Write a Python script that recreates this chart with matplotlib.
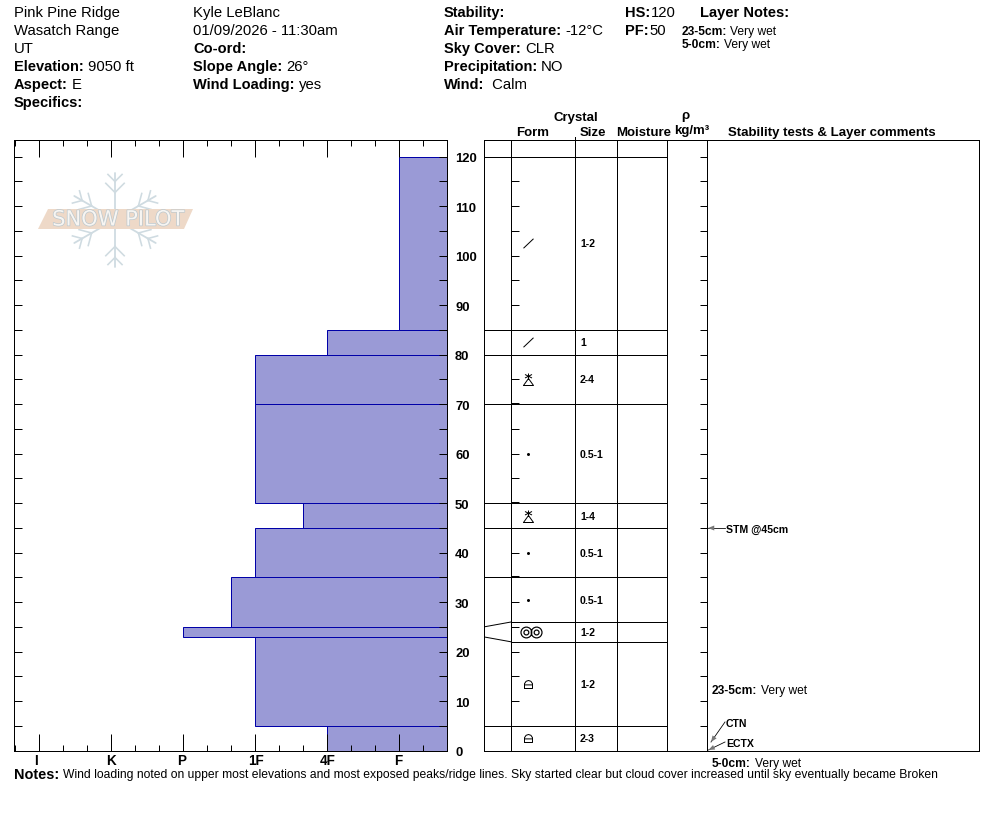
import numpy as np
import matplotlib
matplotlib.use("Agg")
import matplotlib.pyplot as plt
import matplotlib.patheffects as pe
from matplotlib.patches import Polygon
from matplotlib.path import Path
from matplotlib.transforms import Affine2D, ScaledTranslation

plt.rcParams['font.family'] = ['Liberation Sans', 'DejaVu Sans']

# snow profile layers, bottom to top (hardness index: I=0 K=1 P=2 1F=3 4F=4 F=5)
layer_bottom = [0, 5, 23, 25, 35, 45, 50, 70, 80, 85]
layer_top = [5, 23, 25, 35, 45, 50, 70, 80, 85, 120]
layer_hardness = [4, 3, 2, 2.67, 3, 3.67, 3, 3, 4, 5]
hardness_labels = ['I', 'K', 'P', '1F', '4F', 'F']

# crystal table, boundaries are spread out so thin layers stay readable
table_bottom = [0, 5, 22, 26, 35, 45, 50, 70, 80, 85]
table_top = [5, 22, 26, 35, 45, 50, 70, 80, 85, 120]
table_form = ['lock', 'lock', 'rings', 'dot', 'dot', 'facet', 'dot', 'facet', 'slash', 'slash']
table_size = ['2-3', '1-2', '1-2', '0.5-1', '0.5-1', '1-4', '0.5-1', '2-4', '1', '1-2']

header_left = [('', 'Pink Pine Ridge'), ('', 'Wasatch Range'), ('', 'UT'),
               ('Elevation:', '9050 ft'), ('Aspect:', 'E'), ('Specifics:', '')]
header_mid = [('', 'Kyle LeBlanc'), ('', '01/09/2026 - 11:30am'), ('Co-ord:', ''),
              ('Slope Angle:', '26°'), ('Wind Loading:', 'yes')]
header_right = [('Stability:', ''), ('Air Temperature:', '-12°C'), ('Sky Cover:', 'CLR'),
                ('Precipitation:', 'NO'), ('Wind:', ' Calm')]
notes_text = ('Wind loading noted on upper most elevations and most exposed peaks/ridge lines. '
              'Sky started clear but cloud cover increased until sky eventually became Broken')

W, H = 994, 840
Y_TOP, Y_BOT = 140, 750.7
CM_TOP = (Y_BOT - Y_TOP) / 4.95
PX = 0.72  # one pixel in points at dpi 100

fig = plt.figure(figsize=(W / 100, H / 100), dpi=100)


def axes_px(x0, x1):
    return fig.add_axes([x0 / W, 1 - Y_BOT / H, (x1 - x0) / W, (Y_BOT - Y_TOP) / H])


# hardness profile
ax = axes_px(13.6, 447)
ax.set_xlim((13.6 - 39) / 72, (447 - 39) / 72)
ax.set_ylim(0, CM_TOP)
right_edge = ax.get_xlim()[1]
ax.barh(layer_bottom, right_edge - np.array(layer_hardness),
        height=np.array(layer_top) - np.array(layer_bottom), left=layer_hardness,
        align='edge', color='#9a9ad6', edgecolor='#0000a8', linewidth=1.0 * PX)
ax.set_xticks(range(len(hardness_labels)), hardness_labels, fontweight='bold', fontsize=13.5 * PX)
ax.set_xticks(np.arange(-1, 17) / 3, minor=True)
ax.set_yticks(np.arange(0, 121, 10))
ax.set_yticks(np.arange(5, 121, 10), minor=True)
ax.tick_params(axis='x', which='major', direction='in', top=True, length=17 * PX, width=PX, pad=2.5)
ax.tick_params(axis='x', which='minor', direction='in', top=True, length=6 * PX, width=PX)
ax.tick_params(axis='y', which='both', direction='in', left=True, right=True, labelleft=False,
               labelright=True, length=8 * PX, width=PX, pad=5.8)
# tick labels in the source sit a little off their ticks
for lab in ax.get_yticklabels():
    lab.set_fontweight('bold')
    lab.set_fontsize(13 * PX)
    lab.set_transform(lab.get_transform() + ScaledTranslation(0, -1 / 100, fig.dpi_scale_trans))
for lab, dx in zip(ax.get_xticklabels(), [-3, 0, -1, 1, 1, -1]):
    lab.set_transform(lab.get_transform() + ScaledTranslation(dx / 100, 0, fig.dpi_scale_trans))
for s in ax.spines.values():
    s.set_linewidth(PX)

# crystal table, x in figure pixels, y in cm
tb = axes_px(483.6, 978.6)
tb.set_xlim(483.6, 978.6)
tb.set_ylim(0, CM_TOP)
tb.set_xticks([])
tb.set_yticks([])
for s in tb.spines.values():
    s.set_linewidth(PX)
for x in [511, 575, 617, 667, 707]:
    tb.axvline(x, color='black', lw=PX)
tb.plot([575, 575], [CM_TOP, CM_TOP + 0.7], color='black', lw=PX, clip_on=False)

# a few form ticks sit a pixel above their layer line and read as thick
form_ticks = np.arange(5, 116, 5)
tb.hlines(form_ticks + 0.2 * np.isin(form_ticks, [35, 50, 70]), 511, 519, color='black', lw=PX)
tb.hlines(np.arange(5, 121, 5), 700, 707, color='black', lw=PX)

# real boundary on the left, spread boundary in the table
for real, shown in zip(layer_top[:-1] + [120], table_top):
    tb.plot([483.6, 511], [real, shown], color='black', lw=PX)
    tb.plot([511, 667], [shown, shown], color='black', lw=PX)


# form glyphs
def ring_pair():
    circle = Path.unit_circle()
    parts = []
    for cx in (-0.95, 0.95):
        parts.append(circle.transformed(Affine2D().translate(cx, 0)))
        parts.append(circle.transformed(Affine2D().scale(0.45).translate(cx, 0)))
    return Path.make_compound_path(*parts)


M, L = Path.MOVETO, Path.LINETO
glyphs = {
    'slash': (Path([(-1, -0.95), (1, 0.95)], [M, L]), 10),
    'facet': (Path([(-1, -1.2), (1, -1.2), (0, 0.2), (-1, -1.2),
                    (0, -0.1), (0, 1.2), (-0.7, 0.3), (0.7, 1.0), (-0.7, 1.0), (0.7, 0.3)],
                   [M, L, L, L, M, L, M, L, M, L]), 12),
    'lock': (Path([(-1, -1), (1, -1), (1, 0.2), (0.6, 0.8), (0, 1), (-0.6, 0.8), (-1, 0.2), (-1, -1),
                   (-1, -0.1), (1, -0.1)], [M, L, L, L, L, L, L, L, M, L]), 8),
    'rings': (ring_pair(), 21),
}
for form, size, lo, hi in zip(table_form, table_size, table_bottom, table_top):
    mid = (lo + hi) / 2
    if form == 'dot':
        tb.plot([528], [mid], 'o', color='black', ms=3 * PX, mew=0)
    else:
        path, ms = glyphs[form]
        cx = 531 if form == 'rings' else 528
        tb.plot([cx], [mid], marker=path, ms=ms * PX, mfc='none', mec='black',
                mew=(1.2 if form == 'rings' else 1) * PX, ls='none')
    tb.text(580, mid - 0.2, size, fontsize=10.5 * PX, fontweight='bold', va='center', ha='left')

# overlay in pixels for header text and watermark
ink = fig.add_axes([0, 0, 1, 1], zorder=5)
ink.set_xlim(0, W)
ink.set_ylim(H, 0)
ink.axis('off')
ink.patch.set_alpha(0)
fig.canvas.draw()
rend = fig.canvas.get_renderer()


def put(x, y, s, size, **kw):
    # text baseline comes out a pixel high with va=center
    kw.setdefault('va', 'center')
    kw.setdefault('ha', 'left')
    return ink.text(x, y + 1, s, fontsize=size * PX, **kw)


def pair(x, y, bold, plain, size=14.6, plain_size=14.9, gap=4):
    end = x
    if bold:
        t = put(x, y, bold, size, fontweight='bold')
        end = ink.transData.inverted().transform(t.get_window_extent(rend))[1, 0] + gap
    if plain:
        put(end, y, plain, plain_size)


for x, rows in [(14, header_left), (193, header_mid), (444, header_right)]:
    for i, (b, p) in enumerate(rows):
        pair(x, 12 + 18 * i, b, p)

pair(625, 12, 'HS:', '120', gap=1)
pair(625, 30, 'PF:', '50', gap=1)
pair(700, 12, 'Layer Notes:', '')
pair(682, 31, '23-5cm:', 'Very wet', 12, 12, 3)
pair(682, 44, '5-0cm:', 'Very wet', 12, 12, 3)

for x, y, s in [(575.5, 117, 'Crystal'), (532.5, 132, 'Form'), (592.5, 132, 'Size'), (644, 132, 'Moisture'),
                (685, 115, 'ρ'), (692, 130, 'kg/m³'), (832, 132, 'Stability tests & Layer comments')]:
    put(x, y, s, 13.3, fontweight='bold', ha='center')

# tests and comments
tests = [('STM @45cm', 726, 529, 708, 528, 725, 528),
         ('CTN', 726, 723, 711, 742, 725, 722),
         ('ECTX', 726, 743, 708.5, 750, 725, 742)]
for name, tx, ty, tip_x, tip_y, sx, sy in tests:
    put(tx, ty, name, 10.5, fontweight='bold')
    ink.plot([sx, tip_x], [sy, tip_y], color='black', lw=0.8 * PX)
    ink.annotate('', xy=(tip_x, tip_y), xytext=(tip_x + (sx - tip_x) * 0.42, tip_y + (sy - tip_y) * 0.42),
                 arrowprops=dict(arrowstyle='-|>,head_length=0.45,head_width=0.18', color='#777777',
                                 lw=0, shrinkA=0, shrinkB=0))
pair(712, 690, '23-5cm:', 'Very wet', 12, 12, 4)
pair(712, 763, '5-0cm:', 'Very wet', 12, 12, 4)
pair(14, 774, 'Notes:', '', 14.5)
put(63, 774, notes_text, 12.14)

# watermark: snowflake behind a banner
flake = '#cfdbe1'
cx, cy = 115, 219.5
for ang in np.radians(np.arange(30, 360, 60)):
    d = np.array([np.cos(ang), np.sin(ang)])
    ink.plot([cx, cx + 47 * d[0]], [cy, cy + 47 * d[1]], color=flake, lw=1.8 * PX, solid_capstyle='round')
    for r, blen in [(38, 10), (27, 13)]:
        for turn in (-np.pi / 4, np.pi / 4):
            b = np.array([np.cos(ang + turn), np.sin(ang + turn)])
            p = np.array([cx, cy]) + r * d
            ink.plot([p[0], p[0] + blen * b[0]], [p[1], p[1] + blen * b[1]], color=flake, lw=1.6 * PX)
ink.add_patch(Polygon([(38, 229), (48, 209), (193, 209), (184, 229)], closed=True, fc='#eed9c8', ec='none', zorder=3))
ink.text(118, 219.5, 'SNOW PILOT', fontsize=21 * PX, color='#f7f5f2', ha='center', va='center', zorder=4,
         fontfamily='DejaVu Sans', path_effects=[pe.withStroke(linewidth=1.0, foreground='#bcc8ce')])

fig.savefig('out.png', dpi=100)
